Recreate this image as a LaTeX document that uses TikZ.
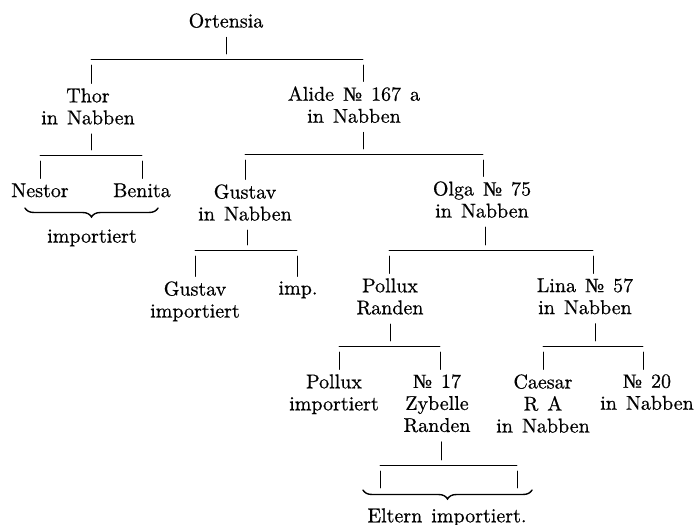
\documentclass[tikz,border=0pt]{standalone}
\usepackage{fontspec}
\setmainfont{Latin Modern Roman}[FakeBold=0.6]
\usepackage{tikz}
\usetikzlibrary{calc, decorations.pathreplacing}
\newfontfamily\numfont{Liberation Serif}[FakeBold=0.6]
\newcommand{\No}{{\numfont\char"2116}}
\newcommand{\widespace}{\spaceskip=4.5pt plus 1pt\relax}

\begin{document}
\begin{tikzpicture}[x=0.5pt, y=-0.5pt, line cap=round,
  animal/.style={anchor=north, inner sep=0pt, align=center,
    font=\fontsize{10}{11}\selectfont, execute at begin node=\widespace},
  tickup/.style={shorten <=4.5pt, shorten >=2.5pt},
  tickdown/.style={shorten <=3pt, shorten >=2.25pt},
  bracket/.style={decorate, line width=0.7pt, decoration={brace, mirror, amplitude=4.5pt}}]
\useasboundingbox (0,0) rectangle (698,525);
% Names
\node[animal] (ort)     at (226,13)  {Ortensia};
\node[animal] (thor)    at (88,88)   {Thor\\in Nabben};
\node[animal] (alide)   at (354,86)  {Alide \No{} 167 a\\in Nabben};
\node[animal] (nestor)  at (40,183)  {Nestor};
\node[animal] (benita)  at (142,183) {Benita};
\node[animal] (impa)    at (92,229)  {importiert};
\node[animal] (gustav)  at (245,184) {Gustav\\in Nabben};
\node[animal] (olga)    at (482,181) {Olga \No{} 75\\in Nabben};
\node[animal] (gustavb) at (195,281) {Gustav\\importiert};
\node[animal] (imp)     at (298,281) {imp.};
\node[animal] (pollux)  at (390,278) {Pollux\\Randen};
\node[animal] (lina)    at (585,278) {Lina \No{} 57\\in Nabben};
\node[animal] (polluxb) at (334,374) {Pollux\\importiert};
\node[animal] (zybelle) at (437,374) {\No{} 17\\Zybelle\\Randen};
\node[animal] (caesar)  at (543,374) {Caesar\\R A\\in Nabben};
\node[animal] (nozw)    at (647,374) {\No{} 20\\in Nabben};
\node[animal] (eltern)  at (447,508) {Eltern importiert.};
% Bars
\coordinate (b1l) at (91,59);   \coordinate (b1r) at (363,59);  \coordinate (b1m) at (226,59);
\coordinate (b2l) at (40,155);  \coordinate (b2r) at (142,155); \coordinate (b2m) at (91,155);
\coordinate (b3l) at (245,154); \coordinate (b3r) at (483,154); \coordinate (b3m) at (363,154);
\coordinate (b4l) at (195,250); \coordinate (b4r) at (297,250); \coordinate (b4m) at (247,250);
\coordinate (b5l) at (389,250); \coordinate (b5r) at (593,250); \coordinate (b5m) at (485,250);
\coordinate (b6l) at (339,346); \coordinate (b6r) at (440,346); \coordinate (b6m) at (390,346);
\coordinate (b7l) at (543,346); \coordinate (b7r) at (643,346); \coordinate (b7m) at (595,346);
\coordinate (b8l) at (380,465); \coordinate (b8r) at (517,465); \coordinate (b8m) at (441,465);
% Braces
\coordinate (br1a) at (25,208);  \coordinate (br1b) at (158,208);
\coordinate (br2a) at (363,490); \coordinate (br2b) at (532,490);
% ---- Ortensia ----
\draw[tickup] (ort.south -| b1m) -- (b1m);
\draw (b1l) -- (b1r);
\draw[tickdown] (b1l) -- (b1l |- thor.north);
\draw[tickdown] (b1r) -- (b1r |- alide.north);
% ---- Thor ----
\draw[tickup] (thor.south -| b2m) -- (b2m);
\draw (b2l) -- (b2r);
\draw[tickdown] (b2l) -- (b2l |- nestor.north);
\draw[tickdown] (b2r) -- (b2r |- benita.north);
\draw[bracket] (br1a) -- (br1b);
% ---- Alide ----
\draw[tickup] (alide.south -| b3m) -- (b3m);
\draw (b3l) -- (b3r);
\draw[tickdown] (b3l) -- (b3l |- gustav.north);
\draw[tickdown] (b3r) -- (b3r |- olga.north);
% ---- Gustav ----
\draw[tickup] (gustav.south -| b4m) -- (b4m);
\draw (b4l) -- (b4r);
\draw[tickdown] (b4l) -- (b4l |- gustavb.north);
\draw[tickdown] (b4r) -- (b4r |- imp.north);
% ---- Olga ----
\draw[tickup] (olga.south -| b5m) -- (b5m);
\draw (b5l) -- (b5r);
\draw[tickdown] (b5l) -- (b5l |- pollux.north);
\draw[tickdown] (b5r) -- (b5r |- lina.north);
% ---- Pollux ----
\draw[tickup] (pollux.south -| b6m) -- (b6m);
\draw (b6l) -- (b6r);
\draw[tickdown] (b6l) -- (b6l |- polluxb.north);
\draw[tickdown] (b6r) -- (b6r |- zybelle.north);
% ---- Lina ----
\draw[tickup] (lina.south -| b7m) -- (b7m);
\draw (b7l) -- (b7r);
\draw[tickdown] (b7l) -- (b7l |- caesar.north);
\draw[tickdown] (b7r) -- (b7r |- nozw.north);
% ---- Zybelle ----
\draw[tickup] (zybelle.south -| b8m) -- (b8m);
\draw (b8l) -- (b8r);
\draw[shorten <=3pt, shorten >=1pt] (b8l) -- (b8l |- br2a);
\draw[shorten <=3pt, shorten >=1pt] (b8r) -- (b8r |- br2a);
\draw[bracket] (br2a) -- (br2b);
\end{tikzpicture}
\end{document}
